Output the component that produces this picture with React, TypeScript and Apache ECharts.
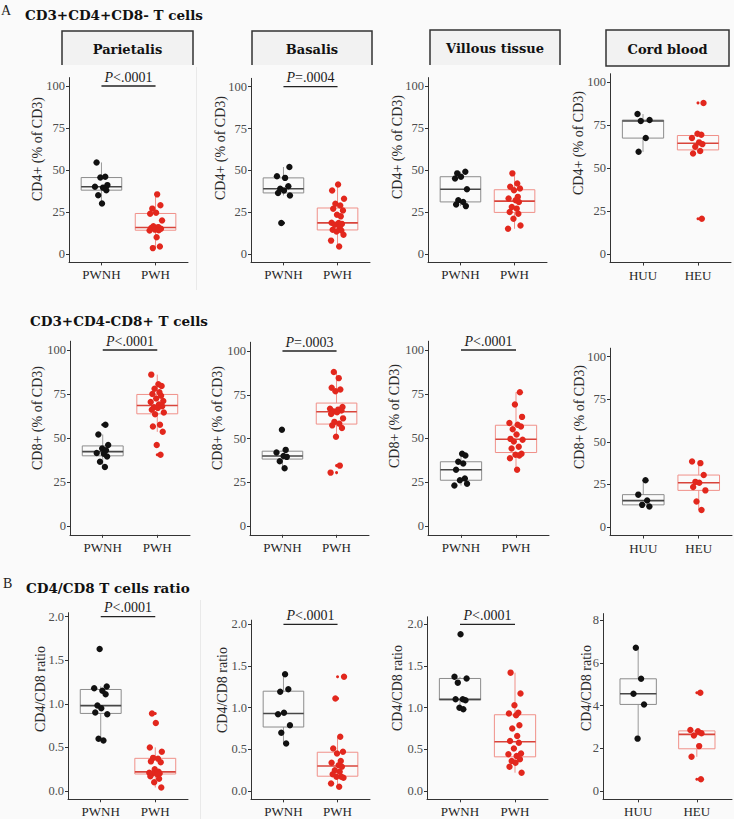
import React, { useEffect, useRef } from 'react';
import * as echarts from 'echarts';

// ---------- data ----------
const groupsPW = ['PWNH', 'PWH'];
const groupsCB = ['HUU', 'HEU'];
const stripLabels = ['Parietalis', 'Basalis', 'Villous tissue', 'Cord blood'];
const sectionTitles = ['CD3+CD4+CD8- T cells', 'CD3+CD4-CD8+ T cells', 'CD4/CD8 T cells ratio'];
const sectionLetters = ['A', 'B'];
const yNames = ['CD4+ (% of CD3)', 'CD8+ (% of CD3)', 'CD4/CD8 ratio'];
const ticksPct = [0, 25, 50, 75, 100];
const ticksRatio = [0, 0.5, 1, 1.5, 2];
const ticksCordRatio = [0, 2, 4, 6, 8];
const pCD4 = ['<.0001', '=.0004', null, null];
const pCD8 = ['<.0001', '=.0003', '<.0001', null];
const pRatio = ['<.0001', '<.0001', '<.0001', null];

const cd4ParietalisPWNH = [54.5, 46, 45.5, 41, 40, 39.5, 38, 35, 30];
const cd4ParietalisPWH = [35.5, 29, 27, 24.5, 24, 20, 16.5, 16, 15.5, 15, 14.5, 14.2, 14, 10, 4.5, 3.5];
const cd4BasalisPWNH = [52, 46.5, 45.5, 40.5, 39, 38, 36.5, 35, 18.5];
const cd4BasalisPWH = [41.5, 38, 33, 30, 29, 27, 26, 23.5, 22.5, 18.7, 18.5, 18, 17.5, 16, 14.5, 14, 13.5, 11.5, 8, 4.5];
const cd4VillousPWNH = [49, 48, 46, 45, 38.5, 32, 31, 29.5, 28.5];
const cd4VillousPWH = [48, 42, 40, 39, 38, 34, 33, 32, 31, 28, 27, 25, 24, 21, 17, 15];
const cd4CordHUU = [81.5, 78, 77.5, 67.5, 59.5];
const cd4CordHEU = [88, 70, 69.5, 67.5, 65, 64, 62.5, 60, 58.5, 20.5];

const cd8ParietalisPWNH = [57.5, 52, 46, 44, 43, 41.5, 41, 39.5, 36.5, 33.5];
const cd8ParietalisPWH = [86, 80.5, 79.5, 78, 76, 75, 74, 72.5, 71, 70.5, 69, 68, 67.5, 67, 66, 64.5, 63.5, 57.5, 56.5, 53.5, 46, 40.5];
const cd8BasalisPWNH = [55, 43.5, 42, 40, 39.5, 37, 33];
const cd8BasalisPWH = [88, 84.5, 79, 78, 77, 68, 67, 66.5, 66, 65.5, 65, 64, 61.5, 59.5, 58.5, 57.5, 56, 51, 34.5, 30.5];
const cd8VillousPWNH = [41, 40, 36.5, 35.5, 32, 27, 26, 24, 23];
const cd8VillousPWH = [76, 69, 62, 58.5, 57.5, 56.5, 55, 52, 49.5, 49, 48, 45, 44, 41, 40.5, 40, 38.5, 32];
const cd8CordHUU = [27.5, 19, 15.5, 13, 12];
const cd8CordHEU = [38.5, 37.5, 30.5, 26.5, 26, 23.5, 21.5, 15, 10];

const ratioParietalisPWNH = [1.63, 1.2, 1.18, 1.15, 1.11, 0.98, 0.95, 0.9, 0.88, 0.6, 0.58];
const ratioParietalisPWH = [0.89, 0.78, 0.5, 0.45, 0.38, 0.37, 0.34, 0.33, 0.25, 0.22, 0.21, 0.21, 0.2, 0.2, 0.19, 0.17, 0.14, 0.1, 0.04];
const ratioBasalisPWNH = [1.4, 1.22, 1.19, 0.94, 0.92, 0.79, 0.7, 0.57];
const ratioBasalisPWH = [1.37, 1.11, 0.65, 0.51, 0.47, 0.45, 0.36, 0.34, 0.31, 0.29, 0.25, 0.23, 0.2, 0.17, 0.17, 0.16, 0.09, 0.05];
const ratioVillousPWNH = [1.88, 1.37, 1.35, 1.3, 1.1, 1.1, 1.09, 1.0, 0.98];
const ratioVillousPWH = [1.42, 1.17, 1.03, 0.94, 0.93, 0.91, 0.79, 0.75, 0.66, 0.6, 0.58, 0.51, 0.45, 0.44, 0.42, 0.38, 0.36, 0.34, 0.29, 0.22];
const ratioCordHUU = [6.7, 5.25, 4.55, 4.05, 2.45];
const ratioCordHEU = [4.6, 2.85, 2.8, 2.7, 2.6, 2.1, 1.6, 0.55];

// ---------- styles / layout ----------
const FONT = 'Liberation Serif';
const BOLD_FONT = 'DejaVu Serif';
const GROUP_STYLE = [
  { point: '#111111', box: '#8c8c8c', median: '#474747', whisker: '#999999' },
  { point: '#e2271d', box: '#f09089', median: '#d8443b', whisker: '#f09089' },
];
const JITTER = [-0.09, 0.07, -0.02, 0.11, -0.12, 0.03, 0.09, -0.06, 0.01, -0.1, 0.12, -0.04, 0.05, -0.08, 0.1, -0.01, 0.06, -0.11, 0.02, 0.08, -0.05, 0.04];

const panels = [
  { groups: groupsPW, values: [cd4ParietalisPWNH, cd4ParietalisPWH], ticks: ticksPct, p: pCD4[0], yName: yNames[0], left: 69, width: 119, zeroPx: 254, topTickPx: 86, yMin: -5, yMax: 105, nameX: 37, nameY: 149, boxFrac: 0.75, digits: 0 },
  { groups: groupsPW, values: [cd4BasalisPWNH, cd4BasalisPWH], ticks: ticksPct, p: pCD4[1], yName: yNames[0], left: 251, width: 119, zeroPx: 254, topTickPx: 86.7, yMin: -5, yMax: 105, nameX: 220, nameY: 148, boxFrac: 0.75, digits: 0 },
  { groups: groupsPW, values: [cd4VillousPWNH, cd4VillousPWH], ticks: ticksPct, p: pCD4[2], yName: yNames[0], left: 428, width: 119, zeroPx: 254, topTickPx: 86, yMin: -5, yMax: 105, nameX: 397, nameY: 147, boxFrac: 0.75, digits: 0 },
  { groups: groupsCB, values: [cd4CordHUU, cd4CordHEU], ticks: ticksPct, p: pCD4[3], yName: yNames[0], left: 610, width: 121, zeroPx: 254, topTickPx: 82.3, yMin: -5, yMax: 105, nameX: 578, nameY: 143, boxFrac: 0.75, digits: 0 },

  { groups: groupsPW, values: [cd8ParietalisPWNH, cd8ParietalisPWH], ticks: ticksPct, p: pCD8[0], yName: yNames[1], left: 70, width: 120, zeroPx: 526, topTickPx: 350, yMin: -5, yMax: 105, nameX: 37, nameY: 418, boxFrac: 0.75, digits: 0 },
  { groups: groupsPW, values: [cd8BasalisPWNH, cd8BasalisPWH], ticks: ticksPct, p: pCD8[1], yName: yNames[1], left: 250, width: 119, zeroPx: 526, topTickPx: 351, yMin: -5, yMax: 105, nameX: 217, nameY: 418, boxFrac: 0.75, digits: 0 },
  { groups: groupsPW, values: [cd8VillousPWNH, cd8VillousPWH], ticks: ticksPct, p: pCD8[2], yName: yNames[1], left: 428, width: 121, zeroPx: 526, topTickPx: 350, yMin: -5, yMax: 105, nameX: 394, nameY: 416, boxFrac: 0.75, digits: 0 },
  { groups: groupsCB, values: [cd8CordHUU, cd8CordHEU], ticks: ticksPct, p: pCD8[3], yName: yNames[1], left: 610, width: 122, zeroPx: 527, topTickPx: 356.7, yMin: -5, yMax: 105, nameX: 579, nameY: 417, boxFrac: 0.75, digits: 0 },

  { groups: groupsPW, values: [ratioParietalisPWNH, ratioParietalisPWH], ticks: ticksRatio, p: pRatio[0], yName: yNames[2], left: 68, width: 120, zeroPx: 791, topTickPx: 616.7, yMin: -0.095, yMax: 2.046, nameX: 40, nameY: 689, boxFrac: 0.75, digits: 1 },
  { groups: groupsPW, values: [ratioBasalisPWNH, ratioBasalisPWH], ticks: ticksRatio, p: pRatio[1], yName: yNames[2], left: 251, width: 119, zeroPx: 791, topTickPx: 624.3, yMin: -0.1, yMax: 2.05, nameX: 222, nameY: 690, boxFrac: 0.75, digits: 1 },
  { groups: groupsPW, values: [ratioVillousPWNH, ratioVillousPWH], ticks: ticksRatio, p: pRatio[2], yName: yNames[2], left: 427, width: 121, zeroPx: 791, topTickPx: 624.3, yMin: -0.1, yMax: 2.09, nameX: 397, nameY: 688, boxFrac: 0.75, digits: 1 },
  { groups: groupsCB, values: [ratioCordHUU, ratioCordHEU], ticks: ticksCordRatio, p: pRatio[3], yName: yNames[2], left: 603, width: 129, zeroPx: 791, topTickPx: 620, yMin: -0.39, yMax: 8.3, nameX: 586, nameY: 688, boxFrac: 0.62, digits: 0 },
];

function quantile(s: number[], q: number) {
  const pos = (s.length - 1) * q;
  const lo = Math.floor(pos);
  const hi = Math.ceil(pos);
  return s[lo] + (s[hi] - s[lo]) * (pos - lo);
}

function boxStats(vals: number[]) {
  const s = [...vals].sort((a, b) => a - b);
  const q1 = quantile(s, 0.25);
  const med = quantile(s, 0.5);
  const q3 = quantile(s, 0.75);
  const iqr = q3 - q1;
  const lo = q1 - 1.5 * iqr;
  const hi = q3 + 1.5 * iqr;
  const inside = s.filter((v) => v >= lo && v <= hi);
  return { min: inside[0], max: inside[inside.length - 1], q1, med, q3, outliers: s.filter((v) => v < lo || v > hi) };
}

function buildOption() {
  const grid: any[] = [];
  const xAxis: any[] = [];
  const yAxis: any[] = [];
  const series: any[] = [];

  panels.forEach((p, i) => {
    const topTick = p.ticks[p.ticks.length - 1];
    const ppu = (p.zeroPx - p.topTickPx) / topTick;
    const top = p.zeroPx - p.yMax * ppu;
    const bottom = p.zeroPx - p.yMin * ppu;
    grid.push({ left: p.left, top, width: p.width, height: bottom - top, containLabel: false, outerBoundsMode: 'none' });
    xAxis.push({
      type: 'value', gridIndex: i, min: 0.4, max: 2.6,
      axisLine: { show: true, onZero: false, lineStyle: { color: '#333333', width: 1 } },
      axisTick: { show: true, customValues: [1, 2], length: 3, lineStyle: { color: '#333333' } },
      axisLabel: { customValues: [1, 2], formatter: (v: number) => p.groups[Math.round(v) - 1] || '', margin: 6, color: '#1f1f1f', fontSize: 13, fontFamily: FONT },
      splitLine: { show: false },
    });
    yAxis.push({
      type: 'value', gridIndex: i, min: p.yMin, max: p.yMax,
      axisLine: { show: true, onZero: false, lineStyle: { color: '#333333', width: 1 } },
      axisTick: { show: true, customValues: p.ticks, length: 3, lineStyle: { color: '#333333' } },
      axisLabel: { customValues: p.ticks, formatter: (v: number) => (p.digits ? v.toFixed(1) : String(v)), margin: 4, color: '#4d4d4d', fontSize: 12.5, fontFamily: FONT },
      splitLine: { show: false },
    });

    const stats = p.values.map(boxStats);
    series.push({
      type: 'custom', xAxisIndex: i, yAxisIndex: i, silent: true, z: 2,
      encode: { x: 0, y: [1, 2, 3, 4, 5] },
      data: stats.map((s, g) => [g + 1, s.min, s.q1, s.med, s.q3, s.max, g]),
      renderItem: (params: any, api: any) => {
        const x = api.value(0);
        const g = api.value(6);
        const st = GROUP_STYLE[g];
        const pMin = api.coord([x, api.value(1)]);
        const pQ1 = api.coord([x, api.value(2)]);
        const pMed = api.coord([x, api.value(3)]);
        const pQ3 = api.coord([x, api.value(4)]);
        const pMax = api.coord([x, api.value(5)]);
        const l = api.coord([x - p.boxFrac / 2, api.value(3)])[0];
        const r = api.coord([x + p.boxFrac / 2, api.value(3)])[0];
        const cx = pMed[0];
        return {
          type: 'group',
          children: [
            { type: 'line', shape: { x1: cx, y1: pQ3[1], x2: cx, y2: pMax[1] }, style: { stroke: st.whisker, lineWidth: 1 } },
            { type: 'line', shape: { x1: cx, y1: pQ1[1], x2: cx, y2: pMin[1] }, style: { stroke: st.whisker, lineWidth: 1 } },
            { type: 'rect', shape: { x: l, y: pQ3[1], width: r - l, height: pQ1[1] - pQ3[1] }, style: { fill: 'rgba(0,0,0,0)', stroke: st.box, lineWidth: 1 } },
            { type: 'line', shape: { x1: l, y1: pMed[1], x2: r, y2: pMed[1] }, style: { stroke: st.median, lineWidth: 1.6 } },
          ],
        };
      },
    });

    series.push({
      type: 'custom', xAxisIndex: i, yAxisIndex: i, silent: true, z: 3,
      encode: { x: 0, y: 1 },
      data: stats.flatMap((s, g) => s.outliers.map((v) => [g + 1, v, g])),
      renderItem: (params: any, api: any) => {
        const c = api.coord([api.value(0), api.value(1)]);
        return { type: 'circle', shape: { cx: c[0], cy: c[1], r: 1.5 }, style: { fill: GROUP_STYLE[api.value(2)].point } };
      },
    });

    series.push({
      type: 'custom', xAxisIndex: i, yAxisIndex: i, silent: true, z: 4,
      encode: { x: 0, y: 1 },
      data: p.values.flatMap((vals, g) => vals.map((v, k) => [g + 1, v, JITTER[(k + g * 5 + i * 3) % JITTER.length], g])),
      renderItem: (params: any, api: any) => {
        const c = api.coord([api.value(0) + api.value(2), api.value(1)]);
        return { type: 'circle', shape: { cx: c[0], cy: c[1], r: 3.2 }, style: { fill: GROUP_STYLE[api.value(3)].point } };
      },
    });

    if (p.p) {
      series.push({
        type: 'custom', xAxisIndex: i, yAxisIndex: i, silent: true, z: 5,
        encode: { x: 0, y: 1 },
        data: [[1.5, topTick]],
        renderItem: (params: any, api: any) => {
          const a = api.coord([1, api.value(1)]);
          const b = api.coord([2, api.value(1)]);
          return {
            type: 'group',
            children: [
              { type: 'line', shape: { x1: a[0], y1: a[1], x2: b[0], y2: b[1] }, style: { stroke: '#222222', lineWidth: 1.3 } },
              {
                type: 'text', x: (a[0] + b[0]) / 2, y: a[1] - 2,
                style: {
                  text: '{i|P}{n|' + p.p + '}',
                  align: 'center', verticalAlign: 'bottom',
                  rich: {
                    i: { fontStyle: 'italic', fontFamily: FONT, fontSize: 14, fill: '#1a1a1a' },
                    n: { fontFamily: FONT, fontSize: 14, fill: '#1a1a1a' },
                  },
                },
              },
            ],
          };
        },
      });
    }
  });

  const graphic: any[] = [];
  graphic.push({ type: 'line', shape: { x1: 196.5, y1: 67, x2: 196.5, y2: 290 }, style: { stroke: '#e9e9e9', lineWidth: 1 }, silent: true });
  graphic.push({ type: 'line', shape: { x1: 200.5, y1: 600, x2: 200.5, y2: 819 }, style: { stroke: '#e9e9e9', lineWidth: 1 }, silent: true });

  graphic.push({ type: 'text', x: 1, y: 10, style: { text: sectionLetters[0], fontFamily: FONT, fontSize: 14, fill: '#222', verticalAlign: 'middle' } });
  graphic.push({ type: 'text', x: 3, y: 583, style: { text: sectionLetters[1], fontFamily: FONT, fontSize: 14, fill: '#222', verticalAlign: 'middle' } });
  graphic.push({ type: 'text', x: 25, y: 15, style: { text: sectionTitles[0], fontFamily: BOLD_FONT, fontWeight: 'bold', fontSize: 13.5, fill: '#111', verticalAlign: 'middle' } });
  graphic.push({ type: 'text', x: 30, y: 321, style: { text: sectionTitles[1], fontFamily: BOLD_FONT, fontWeight: 'bold', fontSize: 13.5, fill: '#111', verticalAlign: 'middle' } });
  graphic.push({ type: 'text', x: 26, y: 588, style: { text: sectionTitles[2], fontFamily: BOLD_FONT, fontWeight: 'bold', fontSize: 13.5, fill: '#111', verticalAlign: 'middle' } });

  const strips = [
    { x1: 62, x2: 193, y1: 31, y2: 65, closed: false },
    { x1: 252, x2: 372, y1: 31, y2: 65, closed: false },
    { x1: 430, x2: 560, y1: 30, y2: 65, closed: false },
    { x1: 606, x2: 729, y1: 30, y2: 66, closed: true },
  ];
  strips.forEach((s, k) => {
    graphic.push({ type: 'rect', shape: { x: s.x1, y: s.y1, width: s.x2 - s.x1, height: s.y2 - s.y1 }, style: { fill: '#f2f2f2', stroke: s.closed ? '#333333' : null, lineWidth: 1.5 }, silent: true });
    if (!s.closed) {
      graphic.push({ type: 'polyline', shape: { points: [[s.x1, s.y2], [s.x1, s.y1], [s.x2, s.y1], [s.x2, s.y2]] }, style: { stroke: '#333333', lineWidth: 1.5, fill: null }, silent: true });
    }
    graphic.push({ type: 'text', x: (s.x1 + s.x2) / 2, y: (s.y1 + s.y2) / 2 + 1, style: { text: stripLabels[k], fontFamily: BOLD_FONT, fontWeight: 'bold', fontSize: 13, fill: '#111', align: 'center', verticalAlign: 'middle' } });
  });

  panels.forEach((p) => {
    graphic.push({ type: 'text', x: p.nameX, y: p.nameY, rotation: Math.PI / 2, style: { text: p.yName, fontFamily: FONT, fontSize: 14, fill: '#2a2a2a', align: 'center', verticalAlign: 'middle' } });
  });

  return {
    animation: false,
    backgroundColor: '#fafafa',
    textStyle: { fontFamily: FONT },
    grid, xAxis, yAxis, series, graphic,
  };
}

export default function App() {
  const ref = useRef<HTMLDivElement>(null);
  useEffect(() => {
    if (!ref.current) return;
    const chart = echarts.init(ref.current, undefined, { renderer: 'svg' });
    chart.setOption(buildOption() as any);
    return () => chart.dispose();
  }, []);
  return <div ref={ref} style={{ position: 'fixed', left: 0, top: 0, width: 734, height: 819 }} />;
}
